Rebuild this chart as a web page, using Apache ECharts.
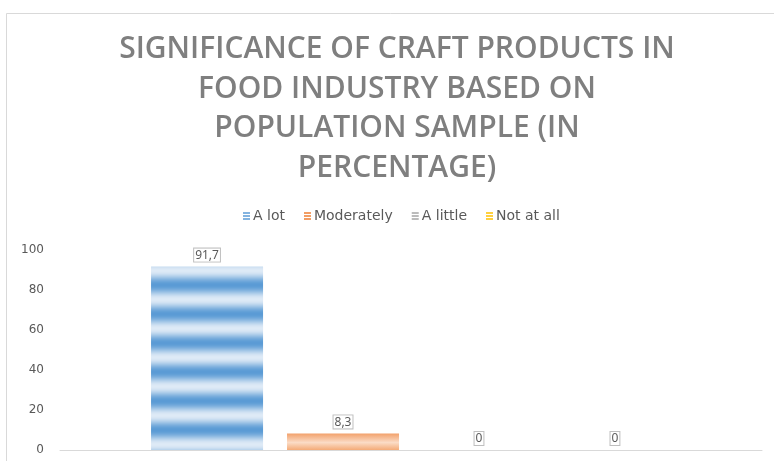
<!DOCTYPE html>
<html>
<head>
<meta charset="utf-8">
<script src="https://cdn.jsdelivr.net/npm/echarts@6/dist/echarts.min.js"></script>
<style>html,body{margin:0;padding:0;background:#fff}#c{width:774px;height:461px}</style>
</head>
<body>
<div id="c"></div>
<script>
const titleText = 'SIGNIFICANCE OF CRAFT PRODUCTS IN\nFOOD INDUSTRY BASED ON\nPOPULATION SAMPLE (IN\nPERCENTAGE)';
const categories = ['Population sample'];
const seriesNames = ['A lot', 'Moderately', 'A little', 'Not at all'];
const seriesValues = [[91.7], [8.3], [0], [0]];
const yTicks = [0, 20, 40, 60, 80, 100];

const baseColors = [[91,155,213],[237,125,49],[165,165,165],[255,192,0]];
const lightColors = [[222,234,246],[252,226,208],[232,232,232],[255,238,190]];

function stripeCanvas(dark, light, period, phase) {
  const c = document.createElement('canvas');
  c.width = 4; c.height = period;
  const ctx = c.getContext('2d');
  for (let y = 0; y < period; y++) {
    const t = (Math.cos(2 * Math.PI * (y - phase) / period) + 1) / 2;
    const r = Math.round(dark[0] + (light[0] - dark[0]) * t);
    const g = Math.round(dark[1] + (light[1] - dark[1]) * t);
    const b = Math.round(dark[2] + (light[2] - dark[2]) * t);
    ctx.fillStyle = 'rgb(' + r + ',' + g + ',' + b + ')';
    ctx.fillRect(0, y, 4, 1);
  }
  return c;
}

const barFills = [
  { image: stripeCanvas(baseColors[0], lightColors[0], 29, 9), repeat: 'repeat' },
  { type: 'linear', x: 0, y: 0, x2: 0, y2: 1, colorStops: [
      { offset: 0, color: '#f2a06a' }, { offset: 0.55, color: '#fbdcc6' }, { offset: 1, color: '#f4ab78' }] },
  { image: stripeCanvas(baseColors[2], lightColors[2], 29, 9), repeat: 'repeat' },
  { image: stripeCanvas(baseColors[3], lightColors[3], 29, 9), repeat: 'repeat' }
];
const legendFills = baseColors.map(c => ({ image: stripeCanvas(c, [255,255,255], 3, 0), repeat: 'repeat' }));

const chart = echarts.init(document.getElementById('c'), null, { renderer: 'canvas' });
const option = {
  animation: false,
  backgroundColor: '#fff',
  graphic: [{
    type: 'polyline', silent: true,
    shape: { points: [[6.5, 461], [6.5, 13.5], [774, 13.5]] },
    style: { stroke: '#d9d9d9', lineWidth: 1, fill: null }
  }],
  title: {
    text: titleText,
    left: 397, top: 30, textAlign: 'center', padding: 0,
    textStyle: { fontFamily: 'Open Sans', fontWeight: 600, fontSize: 30, color: '#7f7f7f', lineHeight: 39.5 }
  },
  legend: {
    top: 209, left: 243, padding: 0,
    itemWidth: 7, itemHeight: 10, itemGap: 19,
    icon: 'rect',
    textStyle: { fontFamily: 'DejaVu Sans', fontSize: 14, color: '#595959', padding: [0,0,0,-2] },
    data: seriesNames.map((n, i) => ({ name: n, itemStyle: { color: legendFills[i] } }))
  },
  grid: { left: 60, right: 12, top: 250, bottom: 11, containLabel: false },
  xAxis: {
    type: 'category', data: categories,
    axisLine: { lineStyle: { color: '#d9d9d9' } },
    axisTick: { show: false }, axisLabel: { show: false }
  },
  yAxis: {
    type: 'value', min: yTicks[0], max: yTicks[yTicks.length - 1], interval: 20,
    splitLine: { show: false }, axisLine: { show: false }, axisTick: { show: false },
    axisLabel: { color: '#595959', fontFamily: 'DejaVu Sans', fontSize: 12, margin: 16 }
  },
  series: seriesNames.map((n, i) => ({
    name: n, type: 'bar', data: seriesValues[i],
    barWidth: 112, barGap: '21.4%',
    itemStyle: { color: barFills[i] },
    label: {
      show: true, position: 'top', distance: 5,
      formatter: p => String(p.value).replace('.', ','),
      fontFamily: 'Noto Sans', fontSize: 12, color: '#595959',
      borderColor: '#bfbfbf', borderWidth: 1, padding: [1, 1, 0, 1], backgroundColor: '#fff'
    }
  }))
};
chart.setOption(option);
</script>
</body>
</html>
